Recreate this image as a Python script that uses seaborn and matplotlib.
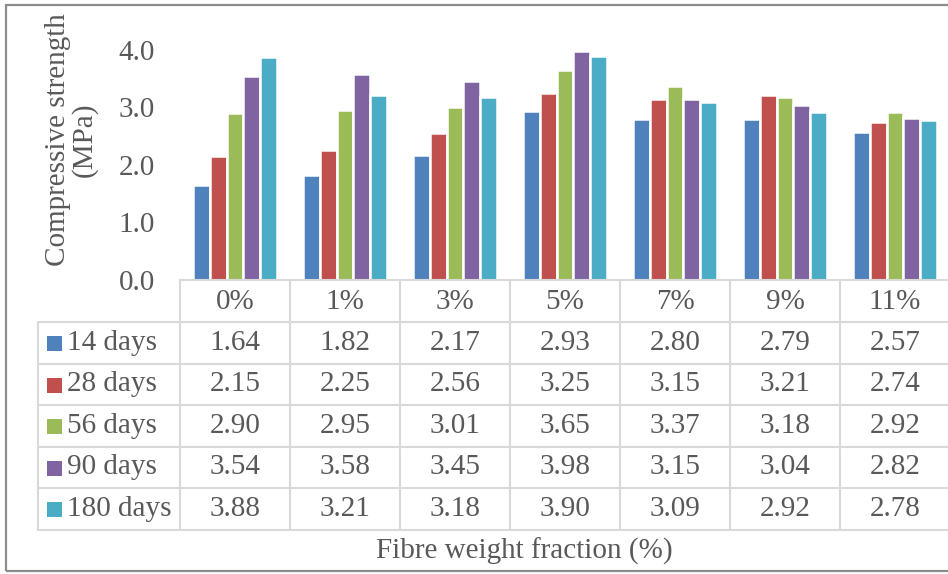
import matplotlib
matplotlib.use("Agg")
import matplotlib.pyplot as plt
from matplotlib.lines import Line2D
from matplotlib.patches import Rectangle
import pandas as pd
import seaborn as sns

# ---- data ----
fractions = ["0%", "1%", "3%", "5%", "7%", "9%", "11%"]
ages = ["14 days", "28 days", "56 days", "90 days", "180 days"]
s14 = [1.64, 1.82, 2.17, 2.93, 2.80, 2.79, 2.57]
s28 = [2.15, 2.25, 2.56, 3.25, 3.15, 3.21, 2.74]
s56 = [2.90, 2.95, 3.01, 3.65, 3.37, 3.18, 2.92]
s90 = [3.54, 3.58, 3.45, 3.98, 3.15, 3.04, 2.82]
s180 = [3.88, 3.21, 3.18, 3.90, 3.09, 2.92, 2.78]
yticks = [0.0, 1.0, 2.0, 3.0, 4.0]
colors = ["#4F81BD", "#C0504D", "#9BBB59", "#8064A2", "#4BACC6"]

series = [s14, s28, s56, s90, s180]
df = pd.DataFrame(
    [(f, a, v) for a, vals in zip(ages, series) for f, v in zip(fractions, vals)],
    columns=["fraction", "age", "strength"],
)

sns.set_theme(style="white")
plt.rcParams["font.family"] = ["Liberation Serif", "DejaVu Serif"]

TXT = "#595959"
GRID = "#D9D9D9"
FS = 21
W, H = 948, 574


def fx(x):
    return x / W


def fy(y):
    return 1 - y / H


fig = plt.figure(figsize=(W / 100, H / 100), dpi=100)

# plot area (pixel layout)
x0, x1 = 180, 950
y_base, px_per_unit = 279.5, 57.4
ymax = 4.0
ax = fig.add_axes([fx(x0), fy(y_base), (x1 - x0) / W, ymax * px_per_unit / H])

sns.barplot(
    data=df, x="fraction", y="strength", hue="age",
    order=fractions, hue_order=ages, palette=colors, saturation=1,
    width=0.77, edgecolor="white", linewidth=1.8,
    errorbar=None, legend=False, ax=ax,
)
ax.set_xlim(-0.5, len(fractions) - 0.5)
ax.set_ylim(0, ymax)
ax.set_yticks(yticks)
ax.set_yticklabels([f"{t:.1f}" for t in yticks], fontsize=FS, color=TXT)
ax.tick_params(axis="y", length=0, pad=18)
ax.tick_params(axis="x", length=0, labelbottom=False)
ax.set_xlabel("")
ax.set_ylabel("")
for s in ax.spines.values():
    s.set_visible(False)

# ---- data table below the plot ----
col_w = (x1 - x0) / len(fractions)
row_top = [279.5, 322, 363.5, 405, 446.5, 488, 529.5]
lw = 1.5


def hline(y, xa, xb):
    fig.add_artist(Line2D([fx(xa), fx(xb)], [fy(y), fy(y)], color=GRID, lw=lw,
                          transform=fig.transFigure))


def vline(x, ya, yb):
    fig.add_artist(Line2D([fx(x), fx(x)], [fy(ya), fy(yb)], color=GRID, lw=lw,
                          transform=fig.transFigure))


hline(row_top[0], x0, W + 5)
for y in row_top[1:]:
    hline(y, 38, W + 5)
for k in range(len(fractions) + 1):
    vline(x0 + k * col_w, row_top[0], row_top[-1])
vline(38, row_top[1], row_top[-1])

# header row
hc = (row_top[0] + row_top[1]) / 2 + 1
for k, f in enumerate(fractions):
    fig.text(fx(x0 + (k + 0.5) * col_w), fy(hc), f, ha="center", va="center",
             fontsize=FS, color=TXT)

# series rows
for r, (age, vals, c) in enumerate(zip(ages, series, colors)):
    yc = (row_top[r + 1] + row_top[r + 2]) / 2
    fig.add_artist(Rectangle((fx(47), fy(yc + 8.5)), 15 / W, 15 / H,
                             facecolor=c, edgecolor="none",
                             transform=fig.transFigure))
    fig.text(fx(67), fy(yc), age, ha="left", va="center", fontsize=FS, color=TXT)
    for k, v in enumerate(vals):
        fig.text(fx(x0 + (k + 0.5) * col_w), fy(yc), f"{v:.2f}", ha="center",
                 va="center", fontsize=FS, color=TXT)

# axis titles
fig.text(fx(524.5), fy(551), "Fibre weight fraction (%)", ha="center", va="center",
         fontsize=FS, color=TXT)
fig.text(fx(71), fy(140), "Compressive strength\n(MPa)", ha="center", va="center",
         rotation=90, fontsize=FS, color=TXT, linespacing=1.0,
         multialignment="center")

# chart frame
fig.add_artist(Rectangle((fx(6), fy(571)), (W + 10) / W, 566 / H, fill=False,
                         edgecolor="#8C8C8C", lw=1.6, transform=fig.transFigure))

fig.savefig("out.png", dpi=100)
